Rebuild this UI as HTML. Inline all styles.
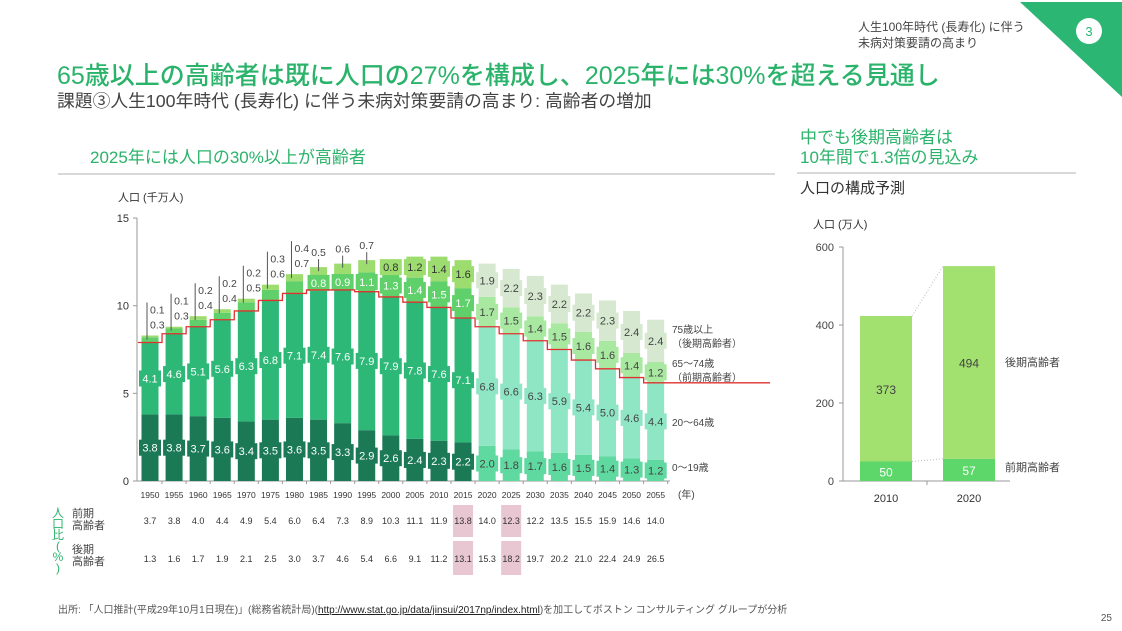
<!DOCTYPE html>
<html><head><meta charset="utf-8"><style>
body{margin:0;width:1122px;height:626px;overflow:hidden;background:#fff;font-family:"Liberation Sans","Noto Sans CJK JP",sans-serif;}
svg text{font-family:"Liberation Sans","Noto Sans CJK JP",sans-serif;}
</style></head><body>
<svg id="s" width="1122" height="626" viewBox="0 0 1122 626" xmlns="http://www.w3.org/2000/svg">
<polygon points="1020,2 1122,2 1122,97" fill="#2bb673"/>
<circle cx="1089" cy="31" r="13" fill="#fff"/>
<text x="1089" y="36" font-size="13" fill="#2bb673" text-anchor="middle">3</text>
<text x="858" y="31" font-size="12" fill="#444">人生100年時代 (長寿化) に伴う</text>
<text x="858" y="47" font-size="12" fill="#444">未病対策要請の高まり</text>
<text x="57" y="84" font-size="25" font-weight="500" fill="#2bb36b">65歳以上の高齢者は既に人口の27%を構成し、2025年には30%を超える見通し</text>
<text x="57" y="107" font-size="17.8" fill="#444">課題③人生100年時代 (長寿化) に伴う未病対策要請の高まり: 高齢者の増加</text>
<text x="90" y="163" font-size="17" fill="#2bb36b">2025年には人口の30%以上が高齢者</text>
<line x1="58" y1="174" x2="775" y2="174" stroke="#ccc" stroke-width="1.5"/>
<text x="800" y="143" font-size="17" fill="#2bb36b">中でも後期高齢者は</text>
<text x="800" y="163" font-size="17" fill="#2bb36b">10年間で1.3倍の見込み</text>
<line x1="797" y1="173" x2="1076" y2="173" stroke="#ccc" stroke-width="1.5"/>
<text x="800" y="193" font-size="15" fill="#333">人口の構成予測</text>
<text x="118" y="201" font-size="11" fill="#333">人口 (千万人)</text>
<text x="813" y="228" font-size="11" fill="#333">人口 (万人)</text>
<g id="main"></g>
<g id="right"></g>
<g id="table"></g>
<text x="58" y="613" font-size="10" fill="#555">出所: 「人口推計(平成29年10月1日現在)」(総務省統計局)(<tspan fill="#222" text-decoration="underline">http://www.stat.go.jp/data/jinsui/2017np/index.html</tspan>)を加工してボストン コンサルティング グループが分析</text>
<text x="1112" y="621" font-size="10" fill="#555" text-anchor="end">25</text>
</svg>
<script>
const years=[1950,1955,1960,1965,1970,1975,1980,1985,1990,1995,2000,2005,2010,2015,2020,2025,2030,2035,2040,2045,2050,2055];
const young=[3.8,3.8,3.7,3.6,3.4,3.5,3.6,3.5,3.3,2.9,2.6,2.4,2.3,2.2,2.0,1.8,1.7,1.6,1.5,1.4,1.3,1.2];
const working=[4.1,4.6,5.1,5.6,6.3,6.8,7.1,7.4,7.6,7.9,7.9,7.8,7.6,7.1,6.8,6.6,6.3,5.9,5.4,5.0,4.6,4.4];
const early=[0.3,0.3,0.4,0.4,0.5,0.6,0.7,0.8,0.9,1.1,1.3,1.4,1.5,1.7,1.7,1.5,1.4,1.5,1.6,1.6,1.4,1.2];
const late=[0.1,0.1,0.2,0.2,0.2,0.3,0.4,0.5,0.6,0.7,0.8,1.2,1.4,1.6,1.9,2.2,2.3,2.2,2.2,2.3,2.4,2.4];
const yTicks=[0,5,10,15];
const earlyPct=["3.7","3.8","4.0","4.4","4.9","5.4","6.0","6.4","7.3","8.9","10.3","11.1","11.9","13.8","14.0","12.3","12.2","13.5","15.5","15.9","14.6","14.0"];
const latePct=["1.3","1.6","1.7","1.9","2.1","2.5","3.0","3.7","4.6","5.4","6.6","9.1","11.2","13.1","15.3","18.2","19.7","20.2","21.0","22.4","24.9","26.5"];
const highlightYears=[2015,2025];
const rCats=["2010","2020"];
const rEarly=[50,57];
const rLate=[373,494];
const rTicks=[0,200,400,600];

const NS="http://www.w3.org/2000/svg";
function mk(p,tag,at,txt){const e=document.createElementNS(NS,tag);for(const k in at)e.setAttribute(k,at[k]);if(txt!==undefined)e.textContent=txt;p.appendChild(e);return e;}
const y=v=>481-v*17.53;
const x=i=>150+i*24.08;
const BW=17;
const main=document.getElementById('main');
let e;
e=mk(main,'line',{x1:137,y1:218,x2:137,y2:481,stroke:'#999'});


e=mk(main,'line',{x1:137,y1:481,x2:670,y2:481,stroke:'#999'});


yTicks.forEach(t=>{
 e=mk(main,'text',{x:129,y:y(t)+4,'font-size':11,fill:'#333','text-anchor':'end'},String(t));
 
 
 mk(main,'line',{x1:133,y1:y(t),x2:137,y2:y(t),stroke:'#999'});
});
const pastC=['#1b7a55','#2db877','#5fd06a','#9ddc6e'];
const futC=['#5fd9a0','#8fe6c4','#a8e8a0','#d6e8d0'];
let redPts=[];
years.forEach((yr,i)=>{
 const fut=yr>=2020;
 const cols=fut?futC:pastC;
 const segs=[young[i],working[i],early[i],late[i]];
 let base=0;
 const cx=x(i);
 const names=['bar-young','bar-working','bar-early-elderly','bar-late-elderly'];
 segs.forEach((v,k)=>{
  e=mk(main,'rect',{x:cx-BW/2,y:y(base+v),width:BW,height:y(base)-y(base+v),fill:cols[k]});
  
  
  const mid=y(base+v/2);
  let show=true;
  if(k>=2 && i<=9) show=false;
  if(show){
   const tc=fut?'#444':(k<=2?'#fff':'#333');
   mk(main,'rect',{x:cx-11,y:mid-8,width:22,height:16,fill:cols[k]});
   e=mk(main,'text',{x:cx,y:mid+4,'font-size':11,fill:tc,'text-anchor':'middle'},v.toFixed(1));
   
   
  }
  base+=v;
 });
 const top=y(base);
 if(i<=6){
  const lx=cx-3;
  mk(main,'line',{x1:lx,y1:top-33,x2:lx,y2:top+4,stroke:'#555','stroke-width':1});
  e=mk(main,'text',{x:lx+3,y:top-22,'font-size':10.5,fill:'#444'},late[i].toFixed(1));
  
  
  e=mk(main,'text',{x:lx+3,y:top-7,'font-size':10.5,fill:'#444'},early[i].toFixed(1));
  
  
 } else if(i<=9){
  mk(main,'line',{x1:cx,y1:top-8,x2:cx,y2:top+4,stroke:'#555'});
  e=mk(main,'text',{x:cx,y:top-11,'font-size':10.5,fill:'#444','text-anchor':'middle'},late[i].toFixed(1));
  
  
  const m=y(young[i]+working[i]+early[i]/2);
  mk(main,'rect',{x:cx-11,y:m-8,width:22,height:16,fill:pastC[2]});
  e=mk(main,'text',{x:cx,y:m+4,'font-size':11,fill:'#fff','text-anchor':'middle'},early[i].toFixed(1));
  
  
 }
 const ry=y(young[i]+working[i]);
 redPts.push([cx-12,ry],[cx+12,ry]);
 e=mk(main,'text',{x:cx,y:498,'font-size':8.5,fill:'#333','text-anchor':'middle'},String(yr));
 
 
 mk(main,'line',{x1:cx+12,y1:481,x2:cx+12,y2:484,stroke:'#999'});
});
redPts[redPts.length-1][0]=770;
let d='';redPts.forEach((p,j)=>{d+=(j==0?'M':'L')+p[0]+','+p[1]+' ';});
e=mk(main,'path',{d:d,fill:'none',stroke:'#e03030','stroke-width':1.3});


const legs=[['75歳以上',333],['（後期高齢者）',347],['65〜74歳',367],['（前期高齢者）',381],['20〜64歳',426],['0〜19歳',471]];
legs.forEach(l=>{e=mk(main,'text',{x:672,y:l[1],'font-size':10,fill:'#444'},l[0]);
 
 });
e=mk(main,'text',{x:678,y:498,'font-size':10,fill:'#444'},'(年)');



const tb=document.getElementById('table');
['人','口','比','(','%',')'].forEach((c,j)=>{e=mk(tb,'text',{x:58,y:517+j*11,'font-size':12,fill:'#2bb36b','text-anchor':'middle'},c);
 
 });
[['前期',517],['高齢者',529],['後期',553],['高齢者',565]].forEach(l=>{e=mk(tb,'text',{x:72,y:l[1],'font-size':11,fill:'#444'},l[0]);
 
 });
years.forEach((yr,i)=>{
 const cx=x(i);
 if(highlightYears.includes(yr)){
  mk(tb,'rect',{x:cx-10,y:505,width:20,height:32,fill:'#e8c6d2'});
  mk(tb,'rect',{x:cx-10,y:541,width:20,height:34,fill:'#e8c6d2'});
 }
 e=mk(tb,'text',{x:cx,y:524,'font-size':9,fill:'#333','text-anchor':'middle'},earlyPct[i]);
 
 
 e=mk(tb,'text',{x:cx,y:562,'font-size':9,fill:'#333','text-anchor':'middle'},latePct[i]);
 
 
});

const rt=document.getElementById('right');
const ry=v=>481-v*0.39;
const rx=[886,969];
e=mk(rt,'line',{x1:843,y1:247,x2:843,y2:481,stroke:'#999'});


e=mk(rt,'line',{x1:843,y1:481,x2:1010,y2:481,stroke:'#999'});


mk(rt,'line',{x1:927,y1:481,x2:927,y2:485,stroke:'#999'});
rTicks.forEach(t=>{e=mk(rt,'text',{x:834,y:ry(t)+4,'font-size':11,fill:'#444','text-anchor':'end'},String(t));
 
 
 mk(rt,'line',{x1:839,y1:ry(t),x2:843,y2:ry(t),stroke:'#999'});});
rCats.forEach((c,i)=>{
 const cx=rx[i];
 e=mk(rt,'rect',{x:cx-26,y:ry(rEarly[i]),width:52,height:ry(0)-ry(rEarly[i]),fill:'#5dd66a'});
 
 
 e=mk(rt,'rect',{x:cx-26,y:ry(rEarly[i]+rLate[i]),width:52,height:ry(rEarly[i])-ry(rEarly[i]+rLate[i]),fill:'#a2e070'});
 
 
 e=mk(rt,'text',{x:cx,y:ry(rEarly[i]/2)+5,'font-size':12,fill:'#fff','text-anchor':'middle'},String(rEarly[i]));
 
 
 e=mk(rt,'text',{x:cx,y:ry(rEarly[i]+rLate[i]/2)+5,'font-size':12,fill:'#444','text-anchor':'middle'},String(rLate[i]));
 
 
 e=mk(rt,'text',{x:cx,y:502,'font-size':11,fill:'#333','text-anchor':'middle'},c);
 
 
});
mk(rt,'line',{x1:rx[0]+26,y1:ry(rEarly[0]+rLate[0]),x2:rx[1]-26,y2:ry(rEarly[1]+rLate[1]),stroke:'#bbb','stroke-dasharray':'1,2'});
mk(rt,'line',{x1:rx[0]+26,y1:ry(rEarly[0]),x2:rx[1]-26,y2:ry(rEarly[1]),stroke:'#bbb','stroke-dasharray':'1,2'});
e=mk(rt,'text',{x:1005,y:366,'font-size':11,fill:'#444'},'後期高齢者');


e=mk(rt,'text',{x:1005,y:471,'font-size':11,fill:'#444'},'前期高齢者');


</script>
</body></html>
